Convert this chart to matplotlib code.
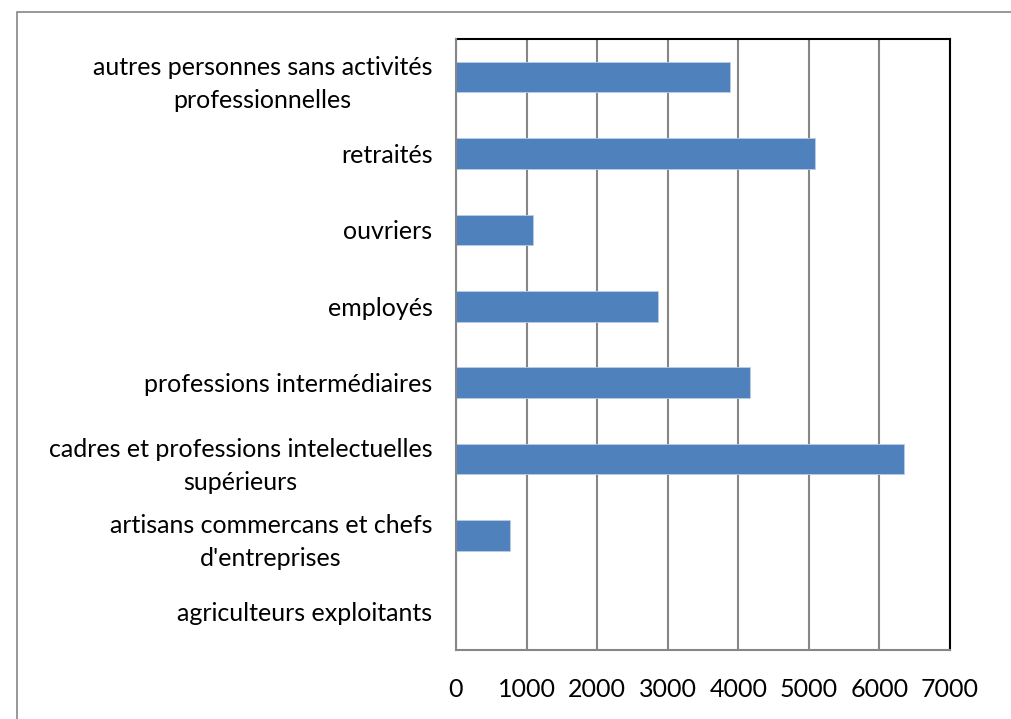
import matplotlib
matplotlib.use("Agg")
import matplotlib.pyplot as plt
from matplotlib.patches import Rectangle

categories = [
    "agriculteurs exploitants",
    "artisans commercans et chefs\nd'entreprises",
    "cadres et professions intelectuelles\nsupérieurs",
    "professions intermédiaires",
    "employés",
    "ouvriers",
    "retraités",
    "autres personnes sans activités\nprofessionnelles",
]
values = [0, 760, 6350, 4160, 2865, 1090, 5085, 3880]
xticks = [0, 1000, 2000, 3000, 4000, 5000, 6000, 7000]

plt.rcParams['font.family'] = ['Lato', 'DejaVu Sans']

fig = plt.figure(figsize=(10.12, 7.19), dpi=100)
fig.patch.set_facecolor('white')

# outer chart border (gray)
fig.add_artist(Rectangle((17/1012, -0.05), 1.1, 1 - 12/719 + 0.05,
                         transform=fig.transFigure, fill=False,
                         edgecolor='#868686', linewidth=1.2))

ax = fig.add_axes([456/1012, 1 - 650/719, (950 - 456)/1012, (650 - 39)/719])
y = list(range(len(categories)))
ax.barh(y, values, height=0.4, color='#4F81BD', edgecolor='#B9CDE5', linewidth=0.6, zorder=3)

ax.set_xlim(0, 7000)
ax.set_ylim(-0.5, len(categories) - 0.5)
ax.set_xticks(xticks)
ax.set_xticklabels([str(v) for v in xticks], fontsize=18)
ax.set_yticks(y)
ax.set_yticklabels(categories, fontsize=18, multialignment='center', linespacing=1.5)
ax.tick_params(axis='both', length=0)
ax.tick_params(axis='x', pad=20)
ax.tick_params(axis='y', pad=17)

ax.xaxis.grid(True, color='#868686', linewidth=1.5, zorder=1)
ax.set_axisbelow(True)

for side in ['top', 'right']:
    ax.spines[side].set_color('black')
    ax.spines[side].set_linewidth(1.5)
for side in ['left', 'bottom']:
    ax.spines[side].set_color('#868686')
    ax.spines[side].set_linewidth(1.5)
    ax.spines[side].set_zorder(4)

fig.savefig('out.png', dpi=100, facecolor='white')
